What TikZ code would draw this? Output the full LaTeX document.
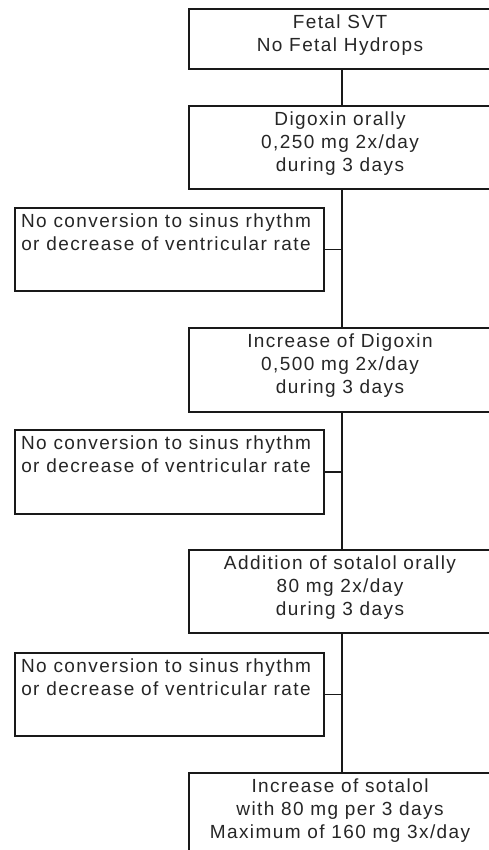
\documentclass[tikz,border=0pt]{standalone}
\usepackage{fontspec}
\setmainfont{Liberation Sans}[LetterSpace=7.5]
\begin{document}
\begin{tikzpicture}[x=1pt,y=-1pt,
  box/.style={draw=black!90, line width=1.9pt, rectangle, inner sep=0pt, anchor=north west},
  txt/.style={anchor=north, align=center, inner sep=0pt, text=black!85,
    font=\fontsize{19}{23}\selectfont},
  conn/.style={draw=black!90, line width=1.9pt}]
\useasboundingbox (0,0) rectangle (489,850);
\clip (0,0) rectangle (489,850);
\fill[white] (0,0) rectangle (489,850);
\coordinate (sx) at (342,0);
% right column boxes
\node[box, minimum width=306pt, minimum height=60pt] (b1) at (188,8) {};
\node[box, minimum width=306pt, minimum height=83pt] (b2) at (188,105) {};
\node[box, minimum width=306pt, minimum height=84pt] (b3) at (188,327) {};
\node[box, minimum width=306pt, minimum height=83pt] (b4) at (188,549) {};
\node[box, minimum width=306pt, minimum height=90pt] (b5) at (188,772) {};
% left boxes
\node[box, minimum width=309pt, minimum height=83pt] (l1) at (14,207) {};
\node[box, minimum width=309pt, minimum height=84pt] (l2) at (14,429) {};
\node[box, minimum width=309pt, minimum height=83pt] (l3) at (14,652) {};
% texts
\node[txt] (t1) at (340,15) {Fetal SVT\\No Fetal Hydrops};
\node[txt] (t2) at (340,112) {Digoxin orally\\0,250 mg 2x/day\\during 3 days};
\node[txt] (t3) at (340,334) {Increase of Digoxin\\0,500 mg 2x/day\\during 3 days};
\node[txt] (t4) at (340,556) {Addition of sotalol orally\\80 mg 2x/day\\during 3 days};
\node[txt] (t5) at (340,779) {Increase of sotalol\\with 80 mg per 3 days\\Maximum of 160 mg 3x/day};
\node[txt] (s1) at (166,214) {No conversion to sinus rhythm\\or decrease of ventricular rate};
\node[txt] (s2) at (166,436) {No conversion to sinus rhythm\\or decrease of ventricular rate};
\node[txt] (s3) at (166,659) {No conversion to sinus rhythm\\or decrease of ventricular rate};
% connectors
\draw[conn] (b1.south -| sx) -- (b2.north -| sx);
\draw[conn] (b2.south -| sx) -- (b3.north -| sx);
\draw[conn] (b3.south -| sx) -- (b4.north -| sx);
\draw[conn] (b4.south -| sx) -- (b5.north -| sx);
\draw[conn] (l1.east) -- (l1.east -| sx);
\draw[conn] (l2.east) -- (l2.east -| sx);
\draw[conn] (l3.east) -- (l3.east -| sx);
\end{tikzpicture}
\end{document}
